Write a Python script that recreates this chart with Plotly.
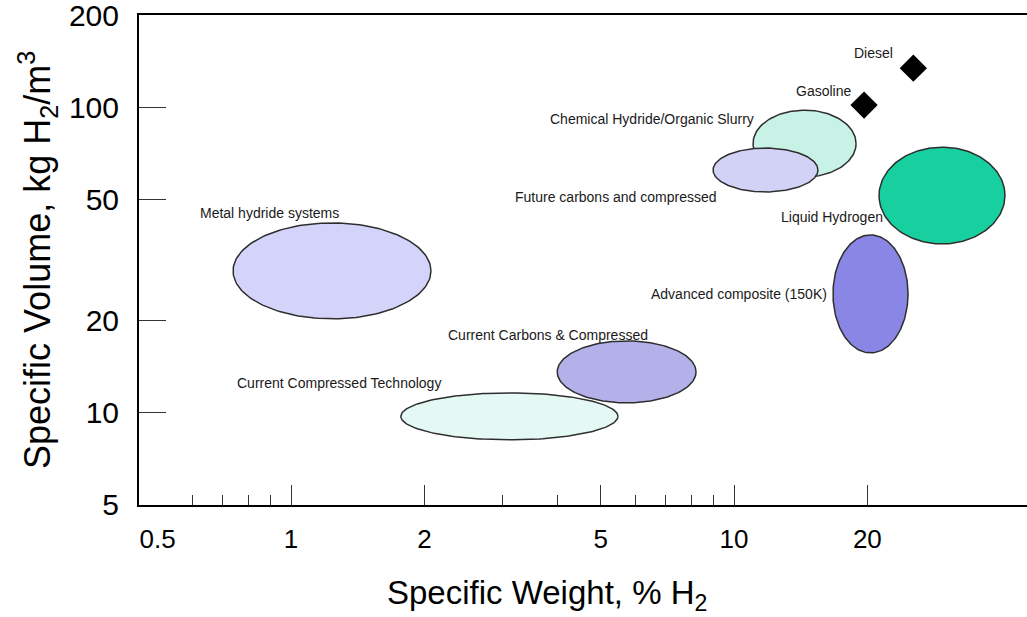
import numpy as np
import plotly.graph_objects as go

# Hydrogen storage options: ranges of specific weight (% H2) and specific volume (kg H2/m3)
tech_names = [
    "Metal hydride systems",
    "Current Compressed Technology",
    "Current Carbons & Compressed",
    "Chemical Hydride/Organic Slurry",
    "Future carbons and compressed",
    "Liquid Hydrogen",
    "Advanced composite (150K)",
]
weight_lo = [0.74, 1.77, 3.99, 11.04, 8.97, 21.25, 16.73]
weight_hi = [2.07, 5.47, 8.21, 18.86, 15.47, 40.9, 24.71]
volume_lo = [20.3, 8.16, 10.78, 59.1, 52.8, 35.7, 15.7]
volume_hi = [41.8, 11.62, 17.19, 97.8, 73.5, 74.0, 38.2]
fill_colors = ["#d4d4fb", "#e4f8f4", "#b3b0ea", "#c8f2e6", "#d2d2f6", "#17cf9f", "#8a86e6"]

# where each technology name is written (left edge, vertical centre)
label_weight = [0.617, 0.747, 2.238, 3.80, 3.17, 12.64, 6.43]
label_volume = [45.05, 12.53, 17.97, 91.4, 50.8, 43.7, 24.48]

# conventional liquid fuels
fuel_names = ["Diesel", "Gasoline"]
fuel_weight = [25.4, 19.66]
fuel_volume = [134.2, 101.6]
fuel_label_weight = [18.47, 13.66]
fuel_label_volume = [150.2, 112.9]

# axis ticks
x_tick_vals = [0.5, 1, 2, 5, 10, 20]
x_tick_text = ["0.5", "1", "2", "5", "10", "20"]
x_long_ticks = [1, 2, 5, 10, 20]
x_short_ticks = [0.6, 0.7, 0.8, 0.9, 3, 4, 6, 7, 8, 9]
y_tick_vals = [5, 10, 20, 50, 100, 200]
y_tick_text = ["5", "10", "20", "50", "100", "200"]

X_RANGE = [-0.343115, 1.661400]
Y_RANGE = [np.log10(5) - 0.0006, np.log10(200) + 0.0006]
FONT = "Liberation Sans, Arial, Helvetica, sans-serif"

fig = go.Figure()

# each range is drawn as an ellipse in log-log space
t = np.linspace(0, 2 * np.pi, 181)
for name, x0, x1, y0, y1, col in zip(tech_names, weight_lo, weight_hi,
                                      volume_lo, volume_hi, fill_colors):
    lx0, lx1 = np.log10(x0), np.log10(x1)
    ly0, ly1 = np.log10(y0), np.log10(y1)
    cx, rx = (lx0 + lx1) / 2, (lx1 - lx0) / 2
    cy, ry = (ly0 + ly1) / 2, (ly1 - ly0) / 2
    fig.add_trace(go.Scatter(
        x=10 ** (cx + rx * np.cos(t)),
        y=10 ** (cy + ry * np.sin(t)),
        mode="lines", fill="toself", fillcolor=col,
        line=dict(color="#2e2e2e", width=1.5),
        name=name, hoverinfo="name", showlegend=False,
    ))

fig.add_trace(go.Scatter(
    x=fuel_weight, y=fuel_volume, mode="markers",
    marker=dict(symbol="diamond", size=21, color="black"),
    text=fuel_names, hoverinfo="text", showlegend=False,
))

# invisible trace that carries the overlay axis with the long ticks
fig.add_trace(go.Scatter(
    x=[1], y=[10], xaxis="x2", mode="markers",
    marker=dict(opacity=0), hoverinfo="skip", showlegend=False,
))

annotations = []
for txt, lx, ly in zip(tech_names + fuel_names,
                       label_weight + fuel_label_weight,
                       label_volume + fuel_label_volume):
    annotations.append(dict(
        x=np.log10(lx), y=np.log10(ly), xref="x", yref="y",
        text=txt, showarrow=False, xanchor="left", yanchor="middle",
        font=dict(family=FONT, size=14, color="#1a1a1a"),
    ))

annotations.append(dict(
    x=-0.1149, y=0.5, xref="paper", yref="paper",
    text="Specific Volume, kg H<sub>2</sub>/m<sup>3</sup>",
    textangle=-90, showarrow=False, xanchor="center", yanchor="middle",
    font=dict(family=FONT, size=36, color="black"),
))
annotations.append(dict(
    x=0.4595, y=-0.184, xref="paper", yref="paper",
    text="Specific Weight, % H<sub>2</sub>",
    showarrow=False, xanchor="center", yanchor="middle",
    font=dict(family=FONT, size=33, color="black"),
))

fig.update_layout(
    width=1027, height=617,
    margin=dict(l=139, r=0, t=15, b=112),
    paper_bgcolor="white", plot_bgcolor="white",
    annotations=annotations,
    xaxis=dict(
        type="log", range=X_RANGE,
        tickmode="array", tickvals=x_tick_vals, ticktext=x_tick_text,
        ticks="", ticklabelstandoff=10, ticklabeloverflow="allow",
        tickfont=dict(family=FONT, size=26, color="black"),
        minor=dict(tickmode="array", tickvals=x_short_ticks, ticks="inside",
                   ticklen=10, tickwidth=1.3, tickcolor="#333", showgrid=False),
        showline=True, linecolor="black", linewidth=2, mirror=True,
        showgrid=False, zeroline=False,
    ),
    xaxis2=dict(
        type="log", range=X_RANGE, overlaying="x", anchor="y", side="bottom",
        tickmode="array", tickvals=x_long_ticks, ticks="inside",
        ticklen=20, tickwidth=1.3, tickcolor="#333",
        showticklabels=False, showline=False, showgrid=False, zeroline=False,
    ),
    yaxis=dict(
        type="log", range=Y_RANGE,
        tickmode="array", tickvals=y_tick_vals, ticktext=y_tick_text,
        ticks="inside", ticklen=27, tickwidth=1.3, tickcolor="#333",
        ticklabelstandoff=12, ticklabeloverflow="allow",
        tickfont=dict(family=FONT, size=30, color="black"),
        showline=True, linecolor="black", linewidth=2,
        showgrid=False, zeroline=False,
    ),
)

fig.write_html("out.html")
